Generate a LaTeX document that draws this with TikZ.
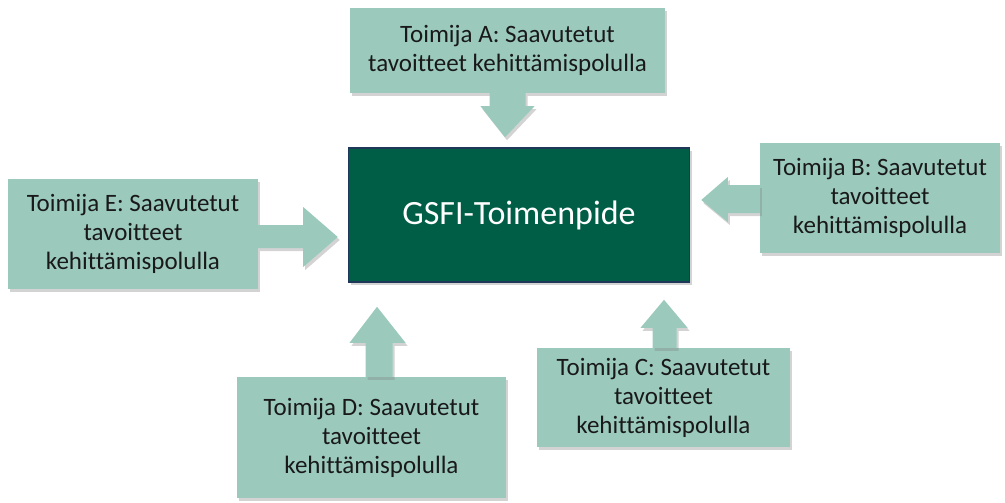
\documentclass[tikz,border=0pt]{standalone}
\usepackage{fontspec}
\setmainfont[Ligatures=NoCommon]{Carlito}
\usetikzlibrary{shadows,calc}
\definecolor{lteal}{RGB}{155,202,189}
\definecolor{dgreen}{RGB}{0,94,71}
\definecolor{navy}{RGB}{31,56,90}
\tikzset{
  sh/.style={drop shadow={opacity=0.35,shadow xshift=2pt,shadow yshift=-3pt}},
  actor/.style={sh,fill=lteal,draw=none,align=center,inner sep=0pt,
    font=\fontsize{25}{29}\selectfont,text=black!90},
  core/.style={sh,fill=dgreen,draw=navy,line width=1.5pt,text=white,
    font=\fontsize{34}{40}\selectfont,minimum width=341pt,minimum height=134pt},
  blk/.style={sh,fill=lteal,draw=none}
}
\begin{document}
\begin{tikzpicture}[x=1pt,y=-1pt]
\useasboundingbox (0,0) rectangle (1005,503);
\node[core] (G) at (519,215) {GSFI-Toimenpide};
\node[actor,minimum width=315pt,minimum height=85pt] (A) at (507.5,50.5)
  {Toimija A: Saavutetut\\tavoitteet kehittämispolulla};
\node[actor,minimum width=240pt,minimum height=110pt] (B) at (880,198)
  {Toimija B: Saavutetut\\tavoitteet\\kehittämispolulla};
\node[actor,minimum width=253pt,minimum height=99pt] (C) at (663.5,397.5)
  {Toimija C: Saavutetut\\tavoitteet\\kehittämispolulla};
\node[actor,minimum width=269pt,minimum height=121pt] (D) at (371.5,437.5)
  {Toimija D: Saavutetut\\tavoitteet\\kehittämispolulla};
\node[actor,minimum width=250pt,minimum height=110pt] (E) at (133,234)
  {Toimija E: Saavutetut\\tavoitteet\\kehittämispolulla};
% block arrows
% A -> G (down)
\fill[blk] ($(A.south)+(-18,0)$) -- ($(A.south)+(18,0)$) -- ($(A.south)+(18,13)$)
  -- ($(A.south)+(27,13)$) -- ($(G.north)+(-14,-10)$) -- ($(A.south)+(-27,13)$)
  -- ($(A.south)+(-18,13)$) -- cycle;
% B -> G (left)
\fill[blk] ($(B.west)+(0,-13)$) -- ($(B.west)+(0,15)$) -- ($(B.west)+(-32,15)$)
  -- ($(B.west)+(-32,24)$) -- ($(G.east)+(11,-15)$) -- ($(B.west)+(-32,-21)$)
  -- ($(B.west)+(-32,-13)$) -- cycle;
% C -> G (up)
\fill[blk] ($(C.north)+(-11,0)$) -- ($(C.north)+(13,0)$) -- ($(C.north)+(13,-20)$)
  -- ($(C.north)+(24,-20)$) -- ($(C.north)+(0.5,-48)$) -- ($(C.north)+(-23,-20)$)
  -- ($(C.north)+(-11,-20)$) -- cycle;
% D -> G (up)
\fill[blk] ($(D.north)+(-6,0)$) -- ($(D.north)+(21,0)$) -- ($(D.north)+(21,-34)$)
  -- ($(D.north)+(34,-34)$) -- ($(D.north)+(5.5,-70)$) -- ($(D.north)+(-22,-34)$)
  -- ($(D.north)+(-6,-34)$) -- cycle;
% E -> G (right)
\fill[blk] ($(E.east)+(0,-9)$) -- ($(E.east)+(45,-9)$) -- ($(E.east)+(45,-27)$)
  -- ($(G.west)+(-10,22)$) -- ($(E.east)+(45,33)$) -- ($(E.east)+(45,14)$)
  -- ($(E.east)+(0,14)$) -- cycle;
\end{tikzpicture}
\end{document}
